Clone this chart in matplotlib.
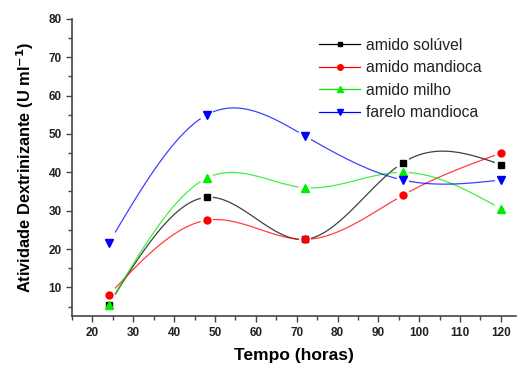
import numpy as np
import matplotlib
matplotlib.use('Agg')
import matplotlib.pyplot as plt
from matplotlib.ticker import MultipleLocator

plt.rcParams['font.family'] = ['Liberation Sans', 'DejaVu Sans']

# DATA
tempo = [24, 48, 72, 96, 120]
amido_soluvel = [5.5, 33.5, 22.5, 42.5, 42.0]
amido_mandioca = [8.0, 27.5, 22.5, 34.0, 45.0]
amido_milho = [5.5, 38.5, 36.0, 40.0, 30.5]
farelo_mandioca = [21.5, 55.0, 49.5, 38.0, 38.0]

series = [
    ('amido solúvel', amido_soluvel, 'black', 's', 4.5),
    ('amido mandioca', amido_mandioca, 'red', 'o', 5),
    ('amido milho', amido_milho, '#00ee00', '^', 6),
    ('farelo mandioca', farelo_mandioca, 'blue', 'v', 6),
]


def natural_spline(x, y, n=60):
    # natural cubic spline, evaluated per interval
    x = np.asarray(x, float)
    y = np.asarray(y, float)
    k = len(x)
    h = np.diff(x)
    A = np.zeros((k, k))
    b = np.zeros(k)
    A[0, 0] = A[-1, -1] = 1
    for i in range(1, k - 1):
        A[i, i - 1] = h[i - 1]
        A[i, i] = 2 * (h[i - 1] + h[i])
        A[i, i + 1] = h[i]
        b[i] = 6 * ((y[i + 1] - y[i]) / h[i] - (y[i] - y[i - 1]) / h[i - 1])
    M = np.linalg.solve(A, b)
    segs = []
    for i in range(k - 1):
        t = np.linspace(x[i], x[i + 1], n)
        a = x[i + 1] - t
        c = t - x[i]
        s = (M[i] * a**3 + M[i + 1] * c**3) / (6 * h[i]) \
            + (y[i] / h[i] - M[i] * h[i] / 6) * a \
            + (y[i + 1] / h[i] - M[i + 1] * h[i] / 6) * c
        segs.append((t, s))
    return segs


fig = plt.figure(figsize=(5.18, 3.65), dpi=100)
ax = fig.add_axes([0.139, 0.134, 0.858, 0.814])

gap = 1.3
for label, vals, color, mk, ms in series:
    for t, s in natural_spline(tempo, vals):
        keep = (t > t[0] + gap) & (t < t[-1] - gap)
        ax.plot(t[keep], s[keep], color=color, lw=0.9, alpha=0.75)
    ax.plot(tempo, vals, linestyle='none', marker=mk, color=color, ms=ms)
    ax.plot([], [], color=color, marker=mk, ms=ms - 1, lw=0.9, label=label)

ax.set_xlim(15, 123.8)
ax.set_ylim(2.5, 80)
ax.spines['top'].set_visible(False)
ax.spines['right'].set_visible(False)
ax.spines['left'].set_color('#444444')
ax.spines['bottom'].set_color('#444444')
ax.spines['left'].set_linewidth(1.2)
ax.spines['bottom'].set_linewidth(1.2)

ax.xaxis.set_major_locator(MultipleLocator(10))
ax.xaxis.set_minor_locator(MultipleLocator(5))
ax.yaxis.set_major_locator(MultipleLocator(10))
ax.yaxis.set_minor_locator(MultipleLocator(5))
ax.set_xticks(range(20, 121, 10))
ax.set_yticks(range(10, 81, 10))
ax.tick_params(which='major', length=4, width=1, color='#444444', labelsize=8.5)
ax.tick_params(which='minor', length=3, width=1, color='#444444')
for lbl in ax.get_xticklabels() + ax.get_yticklabels():
    lbl.set_fontweight('bold')
    lbl.set_color('#222222')

ax.set_xlabel('Tempo (horas)', fontsize=12.5, fontweight='bold', labelpad=7)
ax.set_ylabel('Atividade Dextrinizante (U ml$^{\\mathbf{-1}}$)', fontsize=11.8,
              fontweight='bold', labelpad=9)

leg = ax.legend(loc='upper left', bbox_to_anchor=(0.525, 0.985), frameon=False,
                fontsize=11.3, handlelength=2.6, handletextpad=0.35,
                labelspacing=0.48)
for txt in leg.get_texts():
    txt.set_color('#222222')

fig.savefig('out.png', dpi=100)
